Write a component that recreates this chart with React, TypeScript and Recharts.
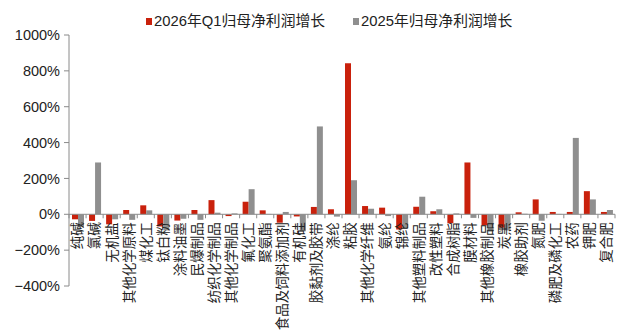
import React from 'react';
import { BarChart, Bar, XAxis, YAxis, ReferenceLine, Legend } from 'recharts';

const categories = [
  '纯碱', '氯碱', '无机盐', '其他化学原料', '煤化工', '钛白粉', '涂料油墨', '民爆制品',
  '纺织化学制品', '其他化学制品', '氟化工', '聚氨酯', '食品及饲料添加剂', '有机硅', '胶黏剂及胶带', '涤纶',
  '粘胶', '其他化学纤维', '氨纶', '锦纶', '其他塑料制品', '改性塑料', '合成树脂', '膜材料',
  '其他橡胶制品', '炭黑', '橡胶助剂', '氮肥', '磷肥及磷化工', '农药', '钾肥', '复合肥',
];
const growth2026Q1 = [
  -28, -37, -56, 24, 50, -68, -35, 24,
  79, -10, 70, 22, -47, -12, 41, 28,
  842, 46, 37, -85, 42, 17, -50, 289,
  -62, -75, 11, 83, 13, 13, 129, 13,
];
const growth2025 = [
  -70, 289, -28, -31, 22, -90, -25, -31,
  9, 5, 140, 2, 13, -95, 490, -13,
  190, 31, -10, -78, 98, 28, 5, -20,
  -97, -90, 3, -36, 2, 426, 83, 24,
];
const yTicks = [-400, -200, 0, 200, 400, 600, 800, 1000];
const seriesNames = ['2026年Q1归母净利润增长', '2025年归母净利润增长'];
const seriesColors = ['#C9210C', '#8F8F8F'];

const data = categories.map((name, i) => ({ name, q1: growth2026Q1[i], y25: growth2025[i] }));

const W = 618;
const H = 328;
const M = { top: 27, right: 11, left: 0, bottom: 0 };
const Y_AXIS_W = 61;
const X_AXIS_H = 50;
const PLOT_H = H - M.top - M.bottom - X_AXIS_H;
const PLOT_W = W - M.left - M.right - Y_AXIS_W;
const Y_MIN = -400;
const Y_MAX = 1000;
const BAND = PLOT_W / categories.length;
const AXIS_COLOR = '#8a8a8a';
const TEXT_COLOR = '#222';
const LATIN_FONT = '"Liberation Sans", "Noto Sans CJK SC", sans-serif';
const CJK_FONT = '"Noto Sans CJK SC", "Liberation Sans", sans-serif';

const fmtPct = (v: number) => (v < 0 ? `−${-v}%` : `${v}%`);

const XTick = (props: any) => {
  const { x, y, payload, index } = props;
  const zeroY = y - (PLOT_H * (0 - Y_MIN)) / (Y_MAX - Y_MIN);
  const ly = zeroY + 8;
  return (
    <g>
      <line x1={x + BAND / 2} x2={x + BAND / 2} y1={zeroY} y2={zeroY + 4} stroke={AXIS_COLOR} />
      {index === 0 && (
        <line x1={x - BAND / 2} x2={x - BAND / 2} y1={zeroY} y2={zeroY + 4} stroke={AXIS_COLOR} />
      )}
      <text
        transform={`rotate(-90 ${x} ${ly})`}
        x={x}
        y={ly}
        dy="0.36em"
        textAnchor="end"
        fontSize={13.5}
        fill={TEXT_COLOR}
        fontFamily={CJK_FONT}
      >
        {payload.value}
      </text>
    </g>
  );
};

const LegendContent = () => (
  <div
    style={{
      display: 'flex',
      alignItems: 'center',
      paddingLeft: 138,
      height: 16,
      fontFamily: LATIN_FONT,
      fontSize: 14.8,
      lineHeight: '16px',
      color: TEXT_COLOR,
      whiteSpace: 'nowrap',
    }}
  >
    {seriesNames.map((n, i) => (
      <div key={n} style={{ display: 'flex', alignItems: 'center', marginRight: 28 }}>
        <span style={{ width: 6, height: 7, background: seriesColors[i], marginRight: 2, display: 'inline-block' }} />
        <span>{n}</span>
      </div>
    ))}
  </div>
);

export default function App() {
  return (
    <div style={{ width: W, height: H }}>
      <BarChart width={W} height={H} data={data} margin={M} barGap={0} barSize={6}>
        <Legend
          layout="horizontal"
          verticalAlign="middle"
          align="center"
          wrapperStyle={{ top: 5, left: 0, width: W, height: 16 }}
          content={() => <LegendContent />}
        />
        <XAxis
          dataKey="name"
          interval={0}
          height={X_AXIS_H}
          axisLine={false}
          tickLine={false}
          tickSize={0}
          tickMargin={0}
          tick={<XTick />}
        />
        <YAxis
          width={Y_AXIS_W}
          domain={[Y_MIN, Y_MAX]}
          ticks={yTicks}
          interval={0}
          tickFormatter={fmtPct}
          axisLine={{ stroke: AXIS_COLOR }}
          tickLine={{ stroke: AXIS_COLOR }}
          tickSize={5}
          tickMargin={4}
          tick={{ fontSize: 14.5, fill: TEXT_COLOR, fontFamily: LATIN_FONT }}
        />
        <ReferenceLine y={0} stroke={AXIS_COLOR} />
        <Bar dataKey="q1" name={seriesNames[0]} fill={seriesColors[0]} isAnimationActive={false} />
        <Bar dataKey="y25" name={seriesNames[1]} fill={seriesColors[1]} isAnimationActive={false} />
      </BarChart>
    </div>
  );
}
